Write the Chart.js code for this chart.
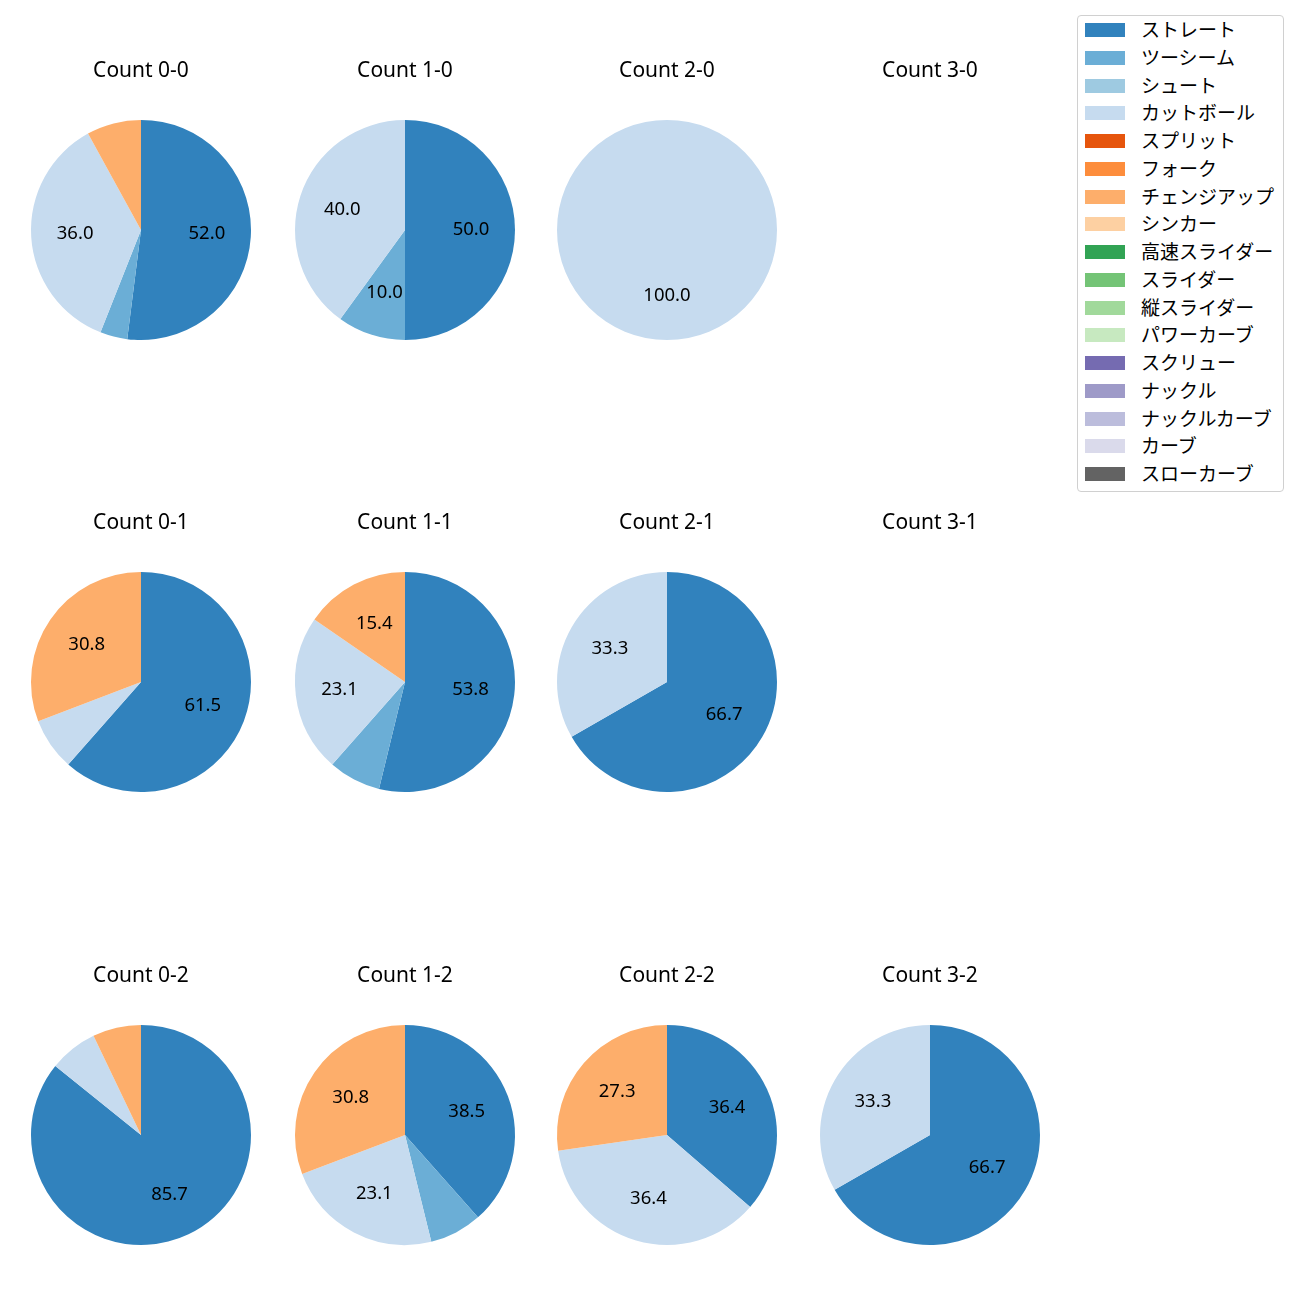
<!DOCTYPE html>
<html>
<head>
<meta charset="utf-8">
<script src="https://cdn.jsdelivr.net/npm/chart.js@4"></script>
<style>
  html, body { margin: 0; padding: 0; background: #fff; }
  #wrap { position: relative; width: 1300px; height: 1300px; }
  canvas.pie { position: absolute; }
  #legend {
    position: absolute; left: 1077px; top: 15px; width: 207px; height: 477px;
    border: 1px solid #d0d0d0; border-radius: 4px; box-sizing: border-box;
    font-family: "Noto Sans CJK JP", sans-serif; font-size: 19px; color: #000;
  }
  .item { position: absolute; left: 0; height: 20px; line-height: 20px; }
  .sw { position: absolute; left: 7px; top: 3px; width: 40px; height: 14px; }
  .lt { position: absolute; left: 63px; top: -1px; white-space: nowrap; }
</style>
</head>
<body>
<div id="wrap"><div id="legend"></div></div>
<script>
// ---- data ----
const pitchTypes = ['ストレート','ツーシーム','シュート','カットボール','スプリット','フォーク','チェンジアップ','シンカー','高速スライダー','スライダー','縦スライダー','パワーカーブ','スクリュー','ナックル','ナックルカーブ','カーブ','スローカーブ'];
const pitchColors = ['#3182bd','#6baed6','#9ecae1','#c6dbef','#e6550d','#fd8d3c','#fdae6b','#fdd0a2','#31a354','#74c476','#a1d99b','#c7e9c0','#756bb1','#9e9ac8','#bcbddc','#dadaeb','#636363'];
const counts = ['0-0','1-0','2-0','3-0','0-1','1-1','2-1','3-1','0-2','1-2','2-2','3-2'];
// percentage per count (same order as counts)
const straight = [52.0, 50.0, 0, 0, 61.5, 53.8, 66.7, 0, 85.7, 38.5, 36.4, 66.7];
const twoSeam  = [4.0, 10.0, 0, 0, 0, 7.7, 0, 0, 0, 7.7, 0, 0];
const cutter   = [36.0, 40.0, 100.0, 0, 7.7, 23.1, 33.3, 0, 7.1, 23.1, 36.4, 33.3];
const changeup = [8.0, 0, 0, 0, 30.8, 15.4, 0, 0, 7.1, 30.8, 27.3, 0];

const seriesByType = { 'ストレート': straight, 'ツーシーム': twoSeam, 'カットボール': cutter, 'チェンジアップ': changeup };

// ---- layout ----
const colX = [141, 405, 667, 930];
const rowY = [230, 682, 1135];
const FONT = '"Noto Sans", "Noto Sans CJK JP", sans-serif';

const titlePlugin = {
  id: 'subTitle',
  afterDraw(chart, args, opts) {
    const ctx = chart.ctx;
    ctx.save();
    ctx.font = '21px ' + FONT;
    ctx.fillStyle = '#000';
    ctx.textAlign = 'center';
    ctx.textBaseline = 'middle';
    const a = chart.chartArea;
    ctx.fillText(opts.text, (a.left + a.right) / 2, (a.top + a.bottom) / 2 - 159);
    ctx.restore();
  }
};

const pctPlugin = {
  id: 'pctLabels',
  afterDatasetsDraw(chart) {
    const ctx = chart.ctx;
    const meta = chart.getDatasetMeta(0);
    const data = chart.data.datasets[0].data;
    ctx.save();
    ctx.font = '18.5px ' + FONT;
    ctx.fillStyle = '#000';
    ctx.textAlign = 'center';
    ctx.textBaseline = 'middle';
    meta.data.forEach((arc, i) => {
      const v = data[i];
      if (!v || v < 10) return;
      const p = arc.getProps(['x','y','startAngle','endAngle','outerRadius'], true);
      const mid = (p.startAngle + p.endAngle) / 2;
      const r = p.outerRadius * 0.6;
      ctx.fillText(v.toFixed(1), p.x + r * Math.cos(mid), p.y + r * Math.sin(mid));
    });
    ctx.restore();
  }
};

counts.forEach((c, k) => {
  const col = k % 4, row = Math.floor(k / 4);
  const cv = document.createElement('canvas');
  cv.className = 'pie';
  cv.width = 260; cv.height = 320;
  cv.style.left = (colX[col] - 130) + 'px';
  cv.style.top = (rowY[row] - 190) + 'px';
  document.getElementById('wrap').appendChild(cv);
  const values = pitchTypes.map(t => seriesByType[t] ? seriesByType[t][k] : 0);
  new Chart(cv, {
    type: 'pie',
    data: {
      labels: pitchTypes,
      datasets: [{ data: values, backgroundColor: pitchColors, borderWidth: 0 }]
    },
    options: {
      responsive: false,
      animation: false,
      events: [],
      layout: { padding: { top: 80, left: 20, right: 20, bottom: 20 } },
      plugins: {
        legend: { display: false },
        tooltip: { enabled: false },
        subTitle: { text: 'Count ' + c }
      }
    },
    plugins: [titlePlugin, pctPlugin]
  });
});

// legend
const lg = document.getElementById('legend');
pitchTypes.forEach((t, i) => {
  const it = document.createElement('div');
  it.className = 'item';
  it.style.top = (4 + i * 27.75) + 'px';
  it.innerHTML = '<span class="sw" style="background:' + pitchColors[i] + '"></span><span class="lt">' + t + '</span>';
  lg.appendChild(it);
});
</script>
</body>
</html>
